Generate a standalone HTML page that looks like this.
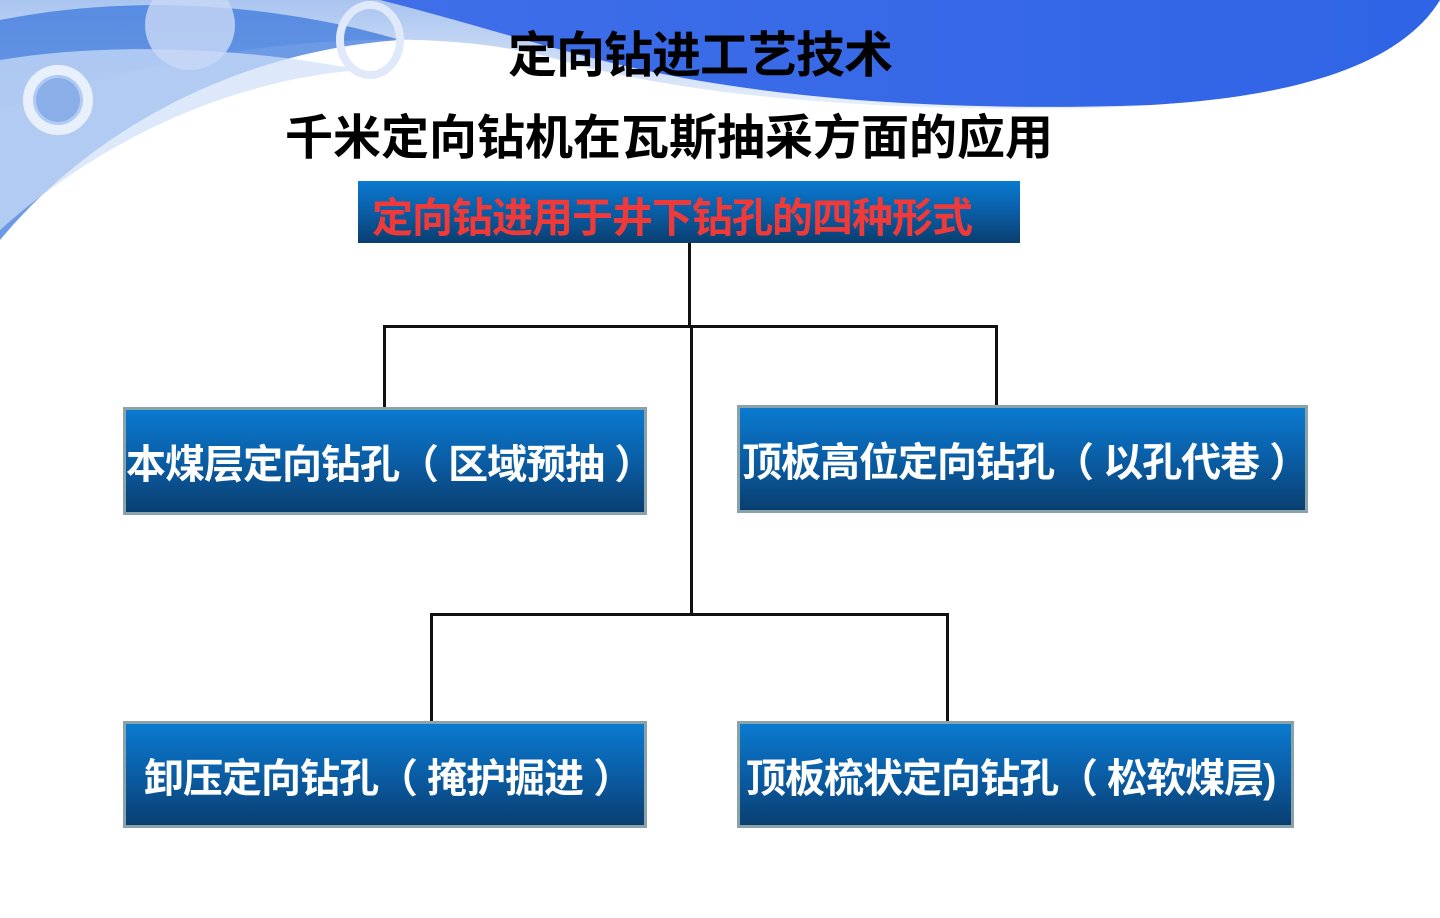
<!DOCTYPE html>
<html><head><meta charset="utf-8"><style>
body{margin:0;width:1440px;height:918px;overflow:hidden;background:#fff;position:relative;font-family:"Liberation Sans","Noto Sans CJK SC",sans-serif;font-weight:bold}
.t{position:absolute;white-space:nowrap}
.box{position:absolute;box-sizing:border-box;border:3px solid #8aa3a8;background:linear-gradient(#0a7ad0,#0a5aa0 55%,#093f70);color:#fff;font-size:40px;display:flex;align-items:center;white-space:nowrap;letter-spacing:-1px}
.ln{position:absolute;background:#111}
</style></head><body>
<svg width="1440" height="260" style="position:absolute;left:0;top:0">
<defs><linearGradient id="g" x1="0" x2="1"><stop offset="0" stop-color="#3f6ee8"/><stop offset="1" stop-color="#2f64e6"/></linearGradient>
<linearGradient id="l" x1="0" x2="0" y1="0" y2="1"><stop offset="0" stop-color="#a9c4f0"/><stop offset="1" stop-color="#e8f0fb"/></linearGradient></defs>
<path d="M0 0 H1440 V0 C1400 60 1300 100 1100 108 C900 112 700 100 560 60 C420 20 200 40 0 110 Z" fill="url(#l)"/>
<path d="M380 0 H1440 C1410 50 1330 95 1150 105 C950 112 760 100 600 60 C520 40 460 20 380 0 Z" fill="url(#g)"/>
<path d="M0 20 C150 -10 300 10 400 40 C250 50 100 120 0 240 Z" fill="#3c78dc" opacity=".75"/>
<path d="M0 60 C120 40 260 50 360 70 C230 80 100 140 0 230 Z" fill="#cfe0f8" opacity=".7"/>
<circle cx="58" cy="100" r="30" fill="none" stroke="#e8f0fc" stroke-width="10"/>
<circle cx="58" cy="100" r="22" fill="#8aaee8"/>
<circle cx="190" cy="25" r="45" fill="#c9d8f5" opacity=".8"/>
<ellipse cx="370" cy="40" rx="30" ry="35" fill="none" stroke="#e0e9fa" stroke-width="8"/>
</svg>
<div class="t" style="left:508px;top:16px;font-size:49px;letter-spacing:-1px">定向钻进工艺技术</div>
<div class="t" style="left:285px;top:98px;font-size:48px;letter-spacing:0">千米定向钻机在瓦斯抽采方面的应用</div>
<div style="position:absolute;left:358px;top:181px;width:662px;height:62px;background:linear-gradient(#0a7ad0,#0a5aa0 55%,#093f70)"></div>
<div class="t" style="left:372px;top:184px;font-size:41px;color:#f03a3a;letter-spacing:-1px">定向钻进用于井下钻孔的四种形式</div>
<div class="ln" style="left:688px;top:243px;width:3px;height:85px"></div>
<div class="ln" style="left:690px;top:327px;width:3px;height:288px"></div>
<div class="ln" style="left:383px;top:325px;width:615px;height:3px"></div>
<div class="ln" style="left:383px;top:325px;width:3px;height:82px"></div>
<div class="ln" style="left:995px;top:327px;width:3px;height:80px"></div>
<div class="ln" style="left:431px;top:613px;width:518px;height:3px"></div>
<div class="ln" style="left:430px;top:613px;width:3px;height:108px"></div>
<div class="ln" style="left:946px;top:613px;width:3px;height:108px"></div>
<div class="box" style="left:123px;top:407px;width:524px;height:108px;padding-left:0px">本煤层定向钻孔（ 区域预抽 ）</div>
<div class="box" style="left:737px;top:405px;width:571px;height:108px;padding-left:2px">顶板高位定向钻孔（ 以孔代巷 ）</div>
<div class="box" style="left:123px;top:721px;width:524px;height:107px;padding-left:18px">卸压定向钻孔（ 掩护掘进 ）</div>
<div class="box" style="left:737px;top:721px;width:557px;height:107px;padding-left:6px">顶板梳状定向钻孔（ 松软煤层)</div>
</body></html>
